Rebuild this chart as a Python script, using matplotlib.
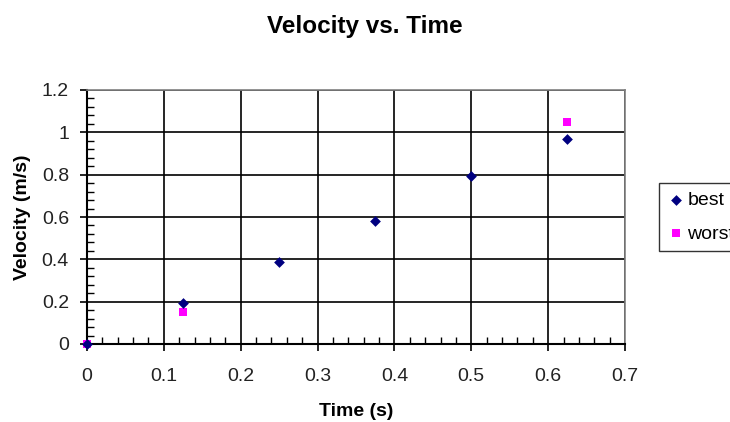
import matplotlib.pyplot as plt
from matplotlib.ticker import MultipleLocator

plt.rcParams['font.family'] = ['Liberation Sans', 'DejaVu Sans']

# data
best_t = [0, 0.125, 0.25, 0.375, 0.5, 0.625]
best_v = [0, 0.195, 0.387, 0.582, 0.794, 0.968]
worst_t = [0, 0.125, 0.625]
worst_v = [0, 0.151, 1.05]

fig = plt.figure(figsize=(7.3, 4.22), dpi=100)
ax = fig.add_axes([87 / 730, 1 - 344 / 422, (625 - 87) / 730, (344 - 90) / 422])

ax.scatter(worst_t, worst_v, marker='s', s=38, color='#FF00FF', zorder=3,
           label='worst', clip_on=False, linewidths=0)
ax.scatter(best_t, best_v, marker='D', s=30, color='#000080', zorder=4,
           label='best', clip_on=False, linewidths=0)

ax.set_xlim(0, 0.7)
ax.set_ylim(0, 1.2)
ax.xaxis.set_minor_locator(MultipleLocator(0.02))
ax.yaxis.set_minor_locator(MultipleLocator(0.04))
ax.set_xticks([0, 0.1, 0.2, 0.3, 0.4, 0.5, 0.6, 0.7])
ax.set_xticklabels(['0', '0.1', '0.2', '0.3', '0.4', '0.5', '0.6', '0.7'])
ax.set_yticks([0, 0.2, 0.4, 0.6, 0.8, 1.0, 1.2])
ax.set_yticklabels(['0', '0.2', '0.4', '0.6', '0.8', '1', '1.2'])

ax.grid(True, which='major', color='black', linewidth=1.2)
ax.set_axisbelow(True)
ax.tick_params(which='major', direction='out', length=5, width=1.2,
               labelsize=14, color='black', labelcolor='#222222')
ax.tick_params(axis='x', which='major', pad=12)
ax.tick_params(axis='y', which='major', pad=8)
ax.tick_params(which='minor', direction='in', length=5, width=1.0, color='black')

for side in ['top', 'right']:
    ax.spines[side].set_color('#808080')
    ax.spines[side].set_linewidth(1.2)
for side in ['left', 'bottom']:
    ax.spines[side].set_color('black')
    ax.spines[side].set_linewidth(1.5)

ax.set_xlabel('Time (s)', fontsize=14, fontweight='bold', labelpad=13)
ax.set_ylabel('Velocity (m/s)', fontsize=14, fontweight='bold', labelpad=8)
fig.text(0.5, 1 - 26 / 422, 'Velocity vs. Time', ha='center', va='center',
         fontsize=17.5, fontweight='bold')

# legend sits partly past the right edge, as in the original
handles, labels = ax.get_legend_handles_labels()
leg = fig.legend(handles[::-1], labels[::-1], loc='upper left',
                 bbox_to_anchor=(659 / 730, 1 - 183 / 422), fontsize=14,
                 frameon=True, fancybox=False, edgecolor='black',
                 handletextpad=0.2, handlelength=0.8, borderpad=0.45,
                 labelspacing=0.8, borderaxespad=0)
leg.get_frame().set_linewidth(1.0)

fig.savefig('out.png', dpi=100)
